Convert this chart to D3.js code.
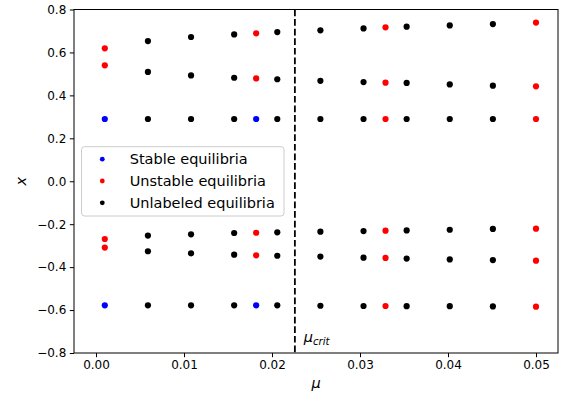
<!DOCTYPE html>
<html>
<head>
<meta charset="utf-8">
<script src="https://cdn.jsdelivr.net/npm/d3@7"></script>
<style>
  html, body { margin: 0; padding: 0; background: #fff; }
  svg { display: block; font-family: "DejaVu Sans", sans-serif; }
</style>
</head>
<body>
<svg id="chart" width="562" height="396"></svg>
<script>
// Control parameter values where equilibria were computed
const mu = [0.001, 0.0059, 0.0108, 0.0157, 0.0182, 0.0206, 0.0255, 0.0304, 0.0329, 0.0353, 0.0402, 0.0451, 0.05];

// Equilibrium branches x*(mu), top to bottom
const branchUpperOuter = [0.619, 0.653, 0.672, 0.684, 0.689, 0.695, 0.703, 0.712, 0.717, 0.720, 0.726, 0.732, 0.739];
const branchUpperMid   = [0.540, 0.509, 0.493, 0.482, 0.479, 0.475, 0.468, 0.462, 0.459, 0.458, 0.451, 0.445, 0.442];
const branchUpperInner = [0.290, 0.290, 0.290, 0.290, 0.290, 0.290, 0.290, 0.290, 0.290, 0.290, 0.290, 0.290, 0.290];
const branchLowerInner = [-0.269, -0.253, -0.247, -0.241, -0.240, -0.238, -0.235, -0.232, -0.230, -0.229, -0.226, -0.222, -0.221];
const branchLowerMid   = [-0.309, -0.326, -0.336, -0.342, -0.345, -0.347, -0.351, -0.356, -0.357, -0.360, -0.364, -0.367, -0.370];
const branchLowerOuter = [-0.578, -0.578, -0.578, -0.578, -0.578, -0.578, -0.580, -0.581, -0.581, -0.582, -0.582, -0.583, -0.584];

// Stability classification per branch (s = stable, u = unstable, n = not classified)
const stabUpperOuter = ["u","n","n","n","u","n","n","n","u","n","n","n","u"];
const stabUpperMid   = ["u","n","n","n","u","n","n","n","u","n","n","n","u"];
const stabUpperInner = ["s","n","n","n","s","n","n","n","u","n","n","n","u"];
const stabLowerInner = ["u","n","n","n","u","n","n","n","u","n","n","n","u"];
const stabLowerMid   = ["u","n","n","n","u","n","n","n","u","n","n","n","u"];
const stabLowerOuter = ["s","n","n","n","s","n","n","n","u","n","n","n","u"];

const muCrit = 0.0226;

const xTicks = [0.00, 0.01, 0.02, 0.03, 0.04, 0.05];
const yTicks = [-0.8, -0.6, -0.4, -0.2, 0.0, 0.2, 0.4, 0.6, 0.8];

const legendLabels = ["Stable equilibria", "Unstable equilibria", "Unlabeled equilibria"];
const legendKeys = ["s", "u", "n"];
const colors = { s: "#0000ff", u: "#ff0000", n: "#000000" };

const branches = [branchUpperOuter, branchUpperMid, branchUpperInner, branchLowerInner, branchLowerMid, branchLowerOuter];
const stabs = [stabUpperOuter, stabUpperMid, stabUpperInner, stabLowerInner, stabLowerMid, stabLowerOuter];

const points = [];
branches.forEach((b, bi) => b.forEach((v, i) => points.push({ mu: mu[i], x: v, s: stabs[bi][i] })));

const svg = d3.select("#chart");
const plotL = 74, plotR = 558, plotT = 9.5, plotB = 353;

const xs = d3.scaleLinear().domain([-0.0025, 0.0525]).range([plotL, plotR]);
const ys = d3.scaleLinear().domain([-0.8, 0.8]).range([plotB, plotT]);

const fmtX = d3.format(".2f");
const fmtY = v => d3.format(".1f")(v).replace("-", "\u2212");

// Axes
const xAxis = d3.axisBottom(xs).tickValues(xTicks).tickFormat(fmtX).tickSize(4.2).tickPadding(3.5);
const yAxis = d3.axisLeft(ys).tickValues(yTicks).tickFormat(fmtY).tickSize(4.2).tickPadding(3.5);

const gx = svg.append("g").attr("transform", `translate(0,${plotB})`).call(xAxis);
const gy = svg.append("g").attr("transform", `translate(${plotL},0)`).call(yAxis);
[gx, gy].forEach(g => {
  g.select(".domain").remove();
  g.selectAll(".tick line").attr("stroke", "#000").attr("stroke-width", 1);
  g.selectAll(".tick text").attr("fill", "#000").attr("font-size", 12).attr("font-family", "DejaVu Sans");
});

// Frame
svg.append("rect")
  .attr("x", plotL).attr("y", plotT)
  .attr("width", plotR - plotL).attr("height", plotB - plotT)
  .attr("fill", "none").attr("stroke", "#000").attr("stroke-width", 1);

// Critical parameter line
svg.append("line")
  .attr("x1", xs(muCrit)).attr("x2", xs(muCrit))
  .attr("y1", plotT).attr("y2", plotB)
  .attr("stroke", "#000").attr("stroke-width", 1.8)
  .attr("stroke-dasharray", "6.7,2.9");

const crit = svg.append("text")
  .attr("x", xs(muCrit + 0.001)).attr("y", ys(-0.75))
  .attr("font-size", 14.5).attr("font-style", "italic").attr("fill", "#000");
crit.append("tspan").text("\u03bc");
crit.append("tspan").attr("font-size", 10.2).attr("dy", 2.5).text("crit");

// Equilibria
const order = ["s", "u", "n"];
order.forEach(k => {
  svg.append("g").selectAll("circle")
    .data(points.filter(p => p.s === k))
    .join("circle")
    .attr("cx", d => xs(d.mu))
    .attr("cy", d => ys(d.x))
    .attr("r", 3.1)
    .attr("fill", colors[k]);
});

// Axis labels
svg.append("text")
  .attr("x", (plotL + plotR) / 2).attr("y", 388)
  .attr("text-anchor", "middle").attr("font-size", 14.5).attr("font-style", "italic")
  .text("\u03bc");
svg.append("text")
  .attr("transform", `translate(25.5,${(plotT + plotB) / 2}) rotate(-90)`)
  .attr("text-anchor", "middle").attr("font-size", 14.5).attr("font-style", "italic")
  .text("x");

// Legend
const lg = svg.append("g");
lg.append("rect")
  .attr("x", 81.5).attr("y", 146.7).attr("width", 202.5).attr("height", 69.3)
  .attr("rx", 3).attr("ry", 3)
  .attr("fill", "#fff").attr("fill-opacity", 0.8)
  .attr("stroke", "#cccccc").attr("stroke-width", 1);
legendLabels.forEach((lab, i) => {
  const cy = 159.2 + i * 21.8;
  lg.append("circle").attr("cx", 102.3).attr("cy", cy).attr("r", 2.4).attr("fill", colors[legendKeys[i]]);
  lg.append("text").attr("x", 129.7).attr("y", cy + 5.2)
    .attr("font-size", 14.5).attr("fill", "#000").text(lab);
});
</script>
</body>
</html>
